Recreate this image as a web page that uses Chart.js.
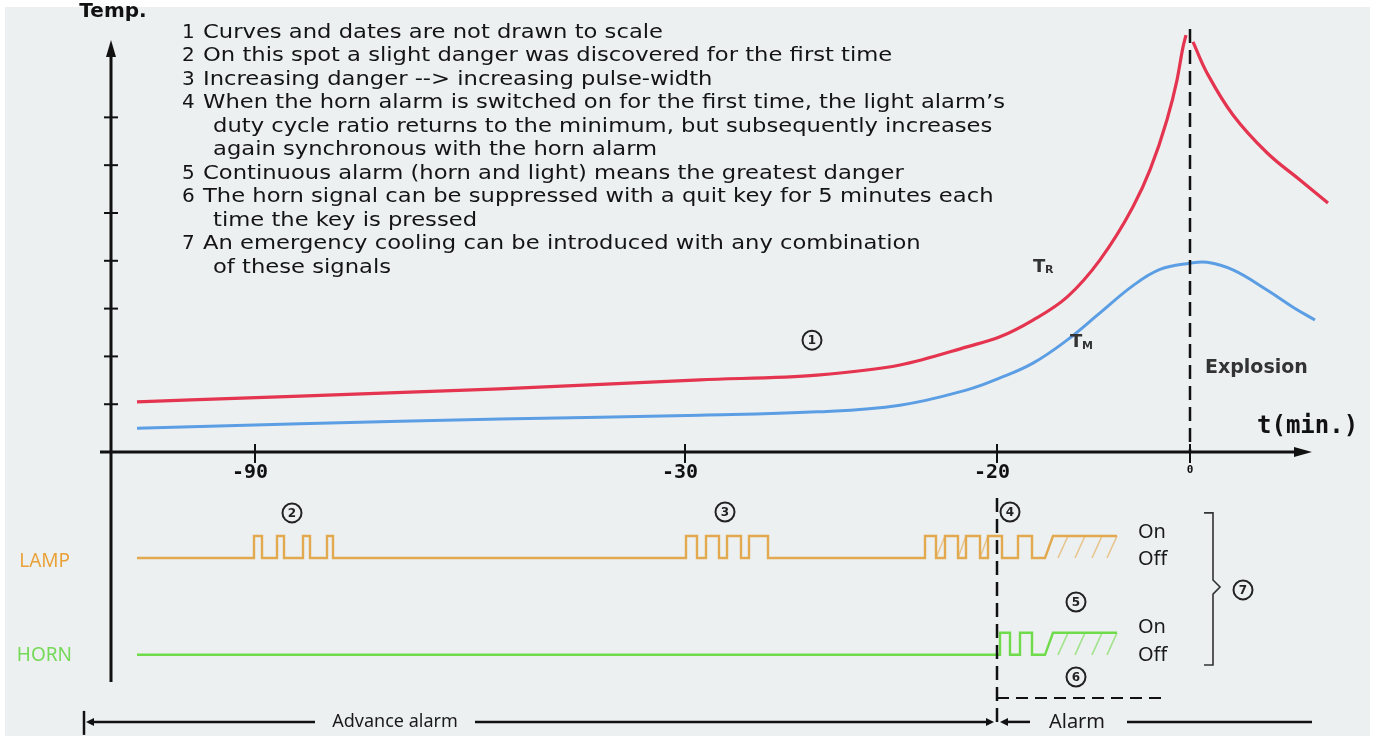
<!DOCTYPE html>
<html><head><meta charset="utf-8">
<script src="https://cdn.jsdelivr.net/npm/chart.js@4/dist/chart.umd.min.js"></script>
<style>html,body{margin:0;padding:0;background:#fff;}#wrap{width:1378px;height:736px;}canvas{display:block;}</style>
</head><body><div id="wrap"><canvas id="c" width="1378" height="736"></canvas></div>
<script>
// x values are schematic diagram units (curves and dates are not drawn to scale)
const tickLabels = ['-90', '-30', '-20', '0'];
const tickPositions = [14.4, 57.4, 88.6, 107.9];
const tempTicks = [1, 2, 3, 4, 5, 6, 7];

// T_R (reactor temperature) – rising branch and falling branch after explosion
const trRiseX = [2.6, 18.9, 38.9, 58.9, 70.6, 78.9, 85.6, 88.9, 92.2, 95.6, 98.9, 102.2, 103.9, 105.6, 106.6, 107.2, 107.5];
const trRiseY = [1.05, 1.17, 1.32, 1.51, 1.61, 1.82, 2.20, 2.41, 2.76, 3.24, 4.02, 5.13, 5.90, 6.95, 7.78, 8.47, 8.72];
const trFallX = [108.2, 109.6, 112.2, 115.6, 118.9, 121.7];
const trFallY = [8.58, 7.93, 7.05, 6.26, 5.69, 5.21];
// T_M (medium temperature)
const tmX = [2.6, 18.9, 38.9, 58.9, 70.6, 78.9, 85.6, 88.9, 92.2, 95.6, 98.9, 102.2, 104.9, 107.9, 109.6, 112.2, 115.6, 118.2, 120.4];
const tmY = [0.50, 0.59, 0.69, 0.77, 0.84, 0.98, 1.30, 1.55, 1.86, 2.34, 2.91, 3.48, 3.82, 3.95, 3.97, 3.81, 3.39, 3.03, 2.76];

// Signals (on/off)
const signalStart = 2.6;
const lampPulses = [[14.3, 15.1], [16.6, 17.3], [19.2, 19.9], [21.6, 22.2],
                    [57.5, 58.6], [59.5, 60.8], [61.6, 63.0], [63.8, 65.7],
                    [81.4, 82.5], [83.4, 84.7], [85.5, 86.9], [87.7, 89.1], [90.7, 92.1]];
const lampContinuous = [93.4, 94.2, 100.6];
const lampHatch = [[82.5, 83.4], [84.7, 85.5], [86.9, 87.7], [94.7, 95.7], [96.4, 97.4], [98.1, 99.1], [99.6, 100.6]];
const hornPulses = [[88.9, 89.9], [90.9, 92.1]];
const hornContinuous = [93.4, 94.2, 100.6];
const hornHatch = [[94.7, 95.7], [96.4, 97.4], [98.1, 99.1], [99.6, 100.6]];
const lampLevels = [0, 1];      // off, on
const hornLevels = [-4.4, -3.4]; // off, on

const notes = [
  ['1', 'Curves and dates are not drawn to scale'],
  ['2', 'On this spot a slight danger was discovered for the first time'],
  ['3', 'Increasing danger --> increasing pulse-width'],
  ['4', 'When the horn alarm is switched on for the first time, the light alarm\u2019s'],
  ['', 'duty cycle ratio returns to the minimum, but subsequently increases'],
  ['', 'again synchronous with the horn alarm'],
  ['5', 'Continuous alarm (horn and light) means the greatest danger'],
  ['6', 'The horn signal can be suppressed with a quit key for 5 minutes each'],
  ['', 'time the key is pressed'],
  ['7', 'An emergency cooling can be introduced with any combination'],
  ['', 'of these signals']
];

const RED = '#e4344f', BLUE = '#5b9ee4', LAMPC = '#e2a94f', GREEN = '#6fdb4b';

function xy(xs, ys) { return xs.map((v, i) => ({x: v, y: ys[i]})); }
function buildSignal(pulses, cont, lv) {
  const [off, on] = lv;
  const pts = [{x: signalStart, y: off}];
  pulses.forEach(([a, b]) => { pts.push({x: a, y: off}, {x: a, y: on}, {x: b, y: on}, {x: b, y: off}); });
  pts.push({x: cont[0], y: off}, {x: cont[1], y: on}, {x: cont[2], y: on});
  return pts;
}
function buildHatch(segs, lv) {
  const pts = [];
  segs.forEach(([a, b]) => { pts.push({x: a, y: lv[0]}, {x: b, y: lv[1]}, {x: b, y: null}); });
  return pts;
}

function arrowHead(ctx, tx, ty, dir, len, half) {
  ctx.beginPath();
  ctx.moveTo(tx, ty);
  if (dir === 'up') { ctx.lineTo(tx - half, ty + len); ctx.lineTo(tx + half, ty + len); }
  if (dir === 'right') { ctx.lineTo(tx - len, ty - half); ctx.lineTo(tx - len, ty + half); }
  if (dir === 'left') { ctx.lineTo(tx + len, ty - half); ctx.lineTo(tx + len, ty + half); }
  ctx.closePath(); ctx.fill();
}
function circled(ctx, cx, cy, d) {
  ctx.save();
  ctx.lineWidth = 2; ctx.strokeStyle = '#222';
  ctx.beginPath(); ctx.arc(cx, cy, 9.5, 0, Math.PI * 2); ctx.stroke();
  ctx.fillStyle = '#222'; ctx.font = 'bold 12px "DejaVu Sans"';
  ctx.textAlign = 'center'; ctx.textBaseline = 'middle';
  ctx.fillText(d, cx, cy + 0.5);
  ctx.restore();
}

const deco = {
  id: 'deco',
  beforeDraw(chart) {
    const ctx = chart.ctx;
    ctx.save();
    ctx.fillStyle = '#ffffff'; ctx.fillRect(0, 0, chart.width, chart.height);
    ctx.fillStyle = '#edf0f1'; ctx.fillRect(5, 7, chart.width - 13, chart.height - 7);
    ctx.restore();
  },
  afterDatasetsDraw(chart) {
    const {ctx, scales: {x, y, y2}} = chart;
    const X = v => x.getPixelForValue(v), Y = v => y.getPixelForValue(v), Y2 = v => y2.getPixelForValue(v);
    ctx.save();
    ctx.strokeStyle = '#111'; ctx.fillStyle = '#111';
    // vertical temperature axis
    const x0 = X(0), y0 = Y(0);
    ctx.lineWidth = 3;
    ctx.beginPath(); ctx.moveTo(x0, Y(y.min)); ctx.lineTo(x0, Y(8.3)); ctx.stroke();
    arrowHead(ctx, x0, Y(8.62), 'up', 17, 5);
    ctx.lineWidth = 2;
    tempTicks.forEach(t => { ctx.beginPath(); ctx.moveTo(x0 - 7, Y(t)); ctx.lineTo(x0 + 7, Y(t)); ctx.stroke(); });
    // horizontal time axis
    ctx.lineWidth = 3;
    ctx.beginPath(); ctx.moveTo(X(-1.1), y0); ctx.lineTo(X(119.4), y0); ctx.stroke();
    arrowHead(ctx, X(120.1), y0, 'right', 18, 5);
    ctx.lineWidth = 2;
    tickPositions.forEach((p, i) => {
      ctx.beginPath(); ctx.moveTo(X(p), y0 - 8); ctx.lineTo(X(p), y0 + 11); ctx.stroke();
      ctx.textAlign = 'center'; ctx.textBaseline = 'middle';
      if (tickLabels[i] === '0') { ctx.font = 'bold 11px "DejaVu Sans Mono"'; ctx.fillText(tickLabels[i], X(p), y0 + 18); }
      else { ctx.font = 'bold 20px "DejaVu Sans Mono"'; ctx.fillText(tickLabels[i], X(p) - 5, y0 + 21); }
    });
    // axis titles
    ctx.font = 'bold 20px "DejaVu Sans"'; ctx.textAlign = 'center'; ctx.textBaseline = 'middle';
    ctx.fillText('Temp.', X(0.2), Y(9.2));
    ctx.font = 'bold 24px "DejaVu Sans Mono"'; ctx.textAlign = 'left';
    ctx.fillText('t(min.)', X(114.6), Y(0.52));
    // explosion dashed line
    ctx.lineWidth = 2.5; ctx.setLineDash([14, 7]);
    ctx.beginPath(); ctx.moveTo(X(tickPositions[3]), Y(8.85)); ctx.lineTo(X(tickPositions[3]), y0); ctx.stroke();
    // -20 dashed line
    ctx.beginPath(); ctx.moveTo(X(tickPositions[2]), Y2(2.73)); ctx.lineTo(X(tickPositions[2]), Y2(-7.73)); ctx.stroke();
    // horizontal suppression dashed line
    ctx.lineWidth = 2; ctx.setLineDash([12, 7]);
    ctx.beginPath(); ctx.moveTo(X(tickPositions[2]), Y2(-6.36)); ctx.lineTo(X(105.6), Y2(-6.36)); ctx.stroke();
    ctx.setLineDash([]);
    // curve labels
    ctx.fillStyle = '#333'; ctx.textBaseline = 'middle'; ctx.textAlign = 'left';
    ctx.font = 'bold 18px "DejaVu Sans"'; ctx.fillText('T', X(92.2), Y(3.87));
    ctx.font = 'bold 11px "DejaVu Sans"'; ctx.fillText('R', X(93.4), Y(3.80));
    ctx.font = 'bold 18px "DejaVu Sans"'; ctx.fillText('T', X(95.9), Y(2.30));
    ctx.font = 'bold 11px "DejaVu Sans"'; ctx.fillText('M', X(97.1), Y(2.22));
    ctx.font = 'bold 19px "DejaVu Sans"'; ctx.fillText('Explosion', X(109.4), Y(1.76));
    // circled markers
    circled(ctx, X(70.1), Y(2.34), '1');
    circled(ctx, X(18.1), Y2(2.05), '2');
    circled(ctx, X(61.4), Y2(2.09), '3');
    circled(ctx, X(89.9), Y2(2.09), '4');
    circled(ctx, X(96.5), Y2(-2.0), '5');
    circled(ctx, X(96.5), Y2(-5.41), '6');
    circled(ctx, X(113.2), Y2(-1.45), '7');
    // On/Off labels
    ctx.fillStyle = '#1a1a1a'; ctx.font = '20px "Noto Sans"'; ctx.textAlign = 'left';
    ctx.fillText('On', X(102.7), Y2(lampLevels[1] + 0.15));
    ctx.fillText('Off', X(102.7), Y2(lampLevels[0] - 0.05));
    ctx.fillText('On', X(102.7), Y2(hornLevels[1] + 0.25));
    ctx.fillText('Off', X(102.7), Y2(hornLevels[0]));
    // bracket
    ctx.strokeStyle = '#333'; ctx.lineWidth = 1.6;
    ctx.beginPath();
    ctx.moveTo(X(109.3), Y2(2.05)); ctx.lineTo(X(110.2), Y2(2.05)); ctx.lineTo(X(110.2), Y2(-1.0));
    ctx.lineTo(X(110.9), Y2(-1.32)); ctx.lineTo(X(110.2), Y2(-1.64));
    ctx.lineTo(X(110.2), Y2(-4.86)); ctx.lineTo(X(109.3), Y2(-4.86));
    ctx.stroke();
    // signal labels
    ctx.font = '19px "Noto Sans"'; ctx.textAlign = 'right';
    ctx.fillStyle = '#e9a23a'; ctx.fillText('LAMP', X(-4.1), Y2(-0.18));
    ctx.fillStyle = '#74d957'; ctx.fillText('HORN', X(-3.9), Y2(-4.45));
    // bottom alarm phase arrows
    const yb = Y2(-7.45);
    ctx.strokeStyle = '#111'; ctx.fillStyle = '#111'; ctx.lineWidth = 2.5;
    ctx.beginPath(); ctx.moveTo(X(-2.7), yb - 11); ctx.lineTo(X(-2.7), yb + 13); ctx.stroke();
    arrowHead(ctx, X(-2.5), yb, 'left', 8, 4);
    ctx.beginPath(); ctx.moveTo(X(-2.2), yb); ctx.lineTo(X(20.4), yb); ctx.stroke();
    ctx.beginPath(); ctx.moveTo(X(36.4), yb); ctx.lineTo(X(87.5), yb); ctx.stroke();
    arrowHead(ctx, X(88.3), yb, 'right', 8, 4);
    arrowHead(ctx, X(88.9), yb, 'left', 8, 4);
    ctx.beginPath(); ctx.moveTo(X(89.5), yb); ctx.lineTo(X(91.9), yb); ctx.stroke();
    ctx.beginPath(); ctx.moveTo(X(101.6), yb); ctx.lineTo(X(120.1), yb); ctx.stroke();
    ctx.fillStyle = '#1a1a1a'; ctx.textAlign = 'center'; ctx.textBaseline = 'middle';
    ctx.font = '18px "Noto Sans"'; ctx.fillText('Advance alarm', X(28.4), yb);
    ctx.font = '20px "Noto Sans"'; ctx.fillText('Alarm', X(96.6), yb);
    // notes block (wide geometric face approximated by horizontally stretched text)
    ctx.font = '20px "DejaVu Sans"'; ctx.fillStyle = '#141414'; ctx.textAlign = 'left';
    const sx = (X(89.4) - X(9.2)) / ctx.measureText(notes[3][1]).width;
    notes.forEach(([n, t], i) => {
      const yy = Y(8.77 - 0.4916 * i);
      if (n) ctx.fillText(n, X(7.1), yy);
      ctx.save();
      ctx.translate(n ? X(9.2) : X(10.2), yy);
      ctx.scale(sx, 1);
      ctx.fillText(t, 0, 0);
      ctx.restore();
    });
    ctx.restore();
  }
};

const lineDs = (data, color, w, axis, extra) => Object.assign({
  data, borderColor: color, borderWidth: w, pointRadius: 0, fill: false, yAxisID: axis, clip: false, tension: 0
}, extra || {});

new Chart(document.getElementById('c'), {
  type: 'line',
  data: {
    datasets: [
      lineDs(xy(trRiseX, trRiseY), RED, 3.2, 'y', {cubicInterpolationMode: 'monotone'}),
      lineDs(xy(trFallX, trFallY), RED, 3.2, 'y', {tension: 0.4}),
      lineDs(xy(tmX, tmY), BLUE, 3, 'y', {tension: 0.4}),
      lineDs(buildSignal(lampPulses, lampContinuous, lampLevels), LAMPC, 2.4, 'y2'),
      lineDs(buildHatch(lampHatch, lampLevels), 'rgba(226,169,79,0.6)', 1.6, 'y2', {spanGaps: false}),
      lineDs(buildSignal(hornPulses, hornContinuous, hornLevels), GREEN, 2.4, 'y2'),
      lineDs(buildHatch(hornHatch, hornLevels), 'rgba(111,219,75,0.6)', 1.6, 'y2', {spanGaps: false})
    ]
  },
  options: {
    responsive: false, animation: false, events: [],
    layout: {padding: {left: 111, right: 47, top: 27, bottom: 54}},
    plugins: {legend: {display: false}, tooltip: {enabled: false}},
    scales: {
      x: {type: 'linear', min: 0, max: 122, display: false},
      y: {type: 'linear', min: -4.81, max: 8.89, display: false},
      y2: {type: 'linear', min: -5.636, max: 24.136, display: false}
    }
  },
  plugins: [deco]
});
</script>
</body></html>
